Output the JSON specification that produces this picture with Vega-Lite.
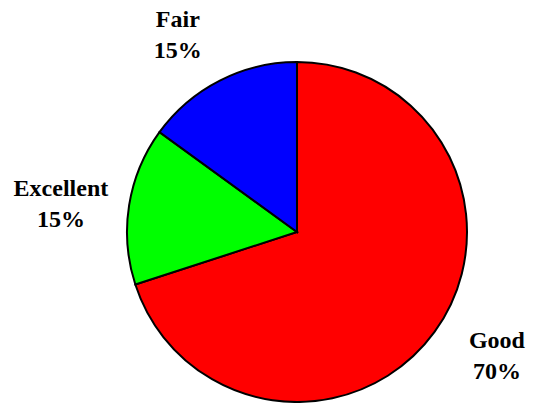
{
  "$schema": "https://vega.github.io/schema/vega-lite/v6.json",
  "width": 400,
  "height": 340,
  "autosize": {"type": "none"},
  "padding": {"left": 97, "top": 62, "right": 37, "bottom": 1},
  "background": "white",
  "view": {"stroke": null},
  "data": {
    "values": [
      {"category": "Good", "value": 70, "order": 1, "label": "Good\n70%"},
      {"category": "Excellent", "value": 15, "order": 2, "label": "Excellent\n15%"},
      {"category": "Fair", "value": 15, "order": 3, "label": "Fair\n15%"}
    ]
  },
  "encoding": {
    "theta": {"field": "value", "type": "quantitative", "stack": true},
    "order": {"field": "order", "type": "quantitative"}
  },
  "layer": [
    {
      "mark": {"type": "arc", "outerRadius": 170, "stroke": "black", "strokeWidth": 2},
      "encoding": {
        "color": {
          "field": "category",
          "type": "nominal",
          "scale": {"domain": ["Good", "Excellent", "Fair"], "range": ["#ff0000", "#00ff00", "#0000ff"]},
          "legend": null
        }
      }
    },
    {
      "mark": {
        "type": "text", "radius": 236, "dx": -12, "dy": -2,
        "font": "Liberation Serif", "fontSize": 24, "fontWeight": "bold",
        "lineBreak": "\n", "lineHeight": 31, "fill": "black",
        "align": "center", "baseline": "middle"
      },
      "encoding": {
        "text": {"condition": {"test": "datum.category == 'Fair'", "field": "label"}, "value": ""}
      }
    },
    {
      "mark": {
        "type": "text", "radius": 236, "dx": -3, "dy": -6,
        "font": "Liberation Serif", "fontSize": 24, "fontWeight": "bold",
        "lineBreak": "\n", "lineHeight": 31, "fill": "black",
        "align": "center", "baseline": "middle"
      },
      "encoding": {
        "text": {"condition": {"test": "datum.category == 'Excellent'", "field": "label"}, "value": ""}
      }
    },
    {
      "mark": {
        "type": "text", "radius": 236, "dx": 9, "dy": -30,
        "font": "Liberation Serif", "fontSize": 24, "fontWeight": "bold",
        "lineBreak": "\n", "lineHeight": 31, "fill": "black",
        "align": "center", "baseline": "middle"
      },
      "encoding": {
        "text": {"condition": {"test": "datum.category == 'Good'", "field": "label"}, "value": ""}
      }
    }
  ]
}
